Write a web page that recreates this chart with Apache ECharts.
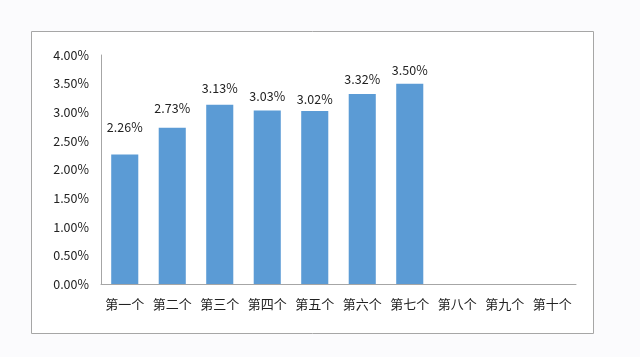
<!DOCTYPE html>
<html><head><meta charset="utf-8">
<script src="https://cdn.jsdelivr.net/npm/echarts@6/dist/echarts.min.js"></script>
<style>html,body{margin:0;padding:0;background:#fbfbfd;}#c{width:640px;height:357px;}</style>
</head><body><div id="c"></div>
<script>
var categories = ['第一个','第二个','第三个','第四个','第五个','第六个','第七个','第八个','第九个','第十个'];
var values = [2.26, 2.73, 3.13, 3.03, 3.02, 3.32, 3.50, null, null, null];
// label gaps above each bar (styling, as placed in the original)
var labelGap = [21, 13, 10, 8, 6, 8, 7, 0, 0, 0];
var font = '"Noto Sans CJK SC", "Noto Sans", sans-serif';
var chart = echarts.init(document.getElementById('c'));
chart.setOption({
  backgroundColor: '#fbfbfd',
  animation: false,
  graphic: [{type:'rect', shape:{x:31.5,y:31.5,width:562,height:302}, style:{fill:'#ffffff', stroke:'#a6a6a6', lineWidth:1}, z:-10}],
  grid: {left:101, right:64, top:55, bottom:73},
  xAxis: {type:'category', data:categories,
    axisLine:{lineStyle:{color:'#a6a6a6', width:1}}, axisTick:{show:false},
    axisLabel:{color:'#222', fontSize:13, fontFamily:font, margin:14, interval:0}},
  yAxis: {type:'value', min:0, max:4, interval:0.5,
    axisLine:{show:true, lineStyle:{color:'#a6a6a6'}}, axisTick:{show:false}, splitLine:{show:false},
    axisLabel:{color:'#222', fontSize:12.5, fontFamily:font, margin:12, formatter:function(v){return v.toFixed(2)+'%';}}},
  series: [{type:'bar', barWidth:'57%', itemStyle:{color:'#5b9bd5'},
    data: values.map(function(v, i){ return {value: v, label: {distance: labelGap[i]}}; }),
    label:{show:true, position:'top', color:'#222', fontSize:12.5, fontFamily:font, formatter:function(p){return p.value == null ? '' : p.value.toFixed(2)+'%';}}}]
});
</script></body></html>
